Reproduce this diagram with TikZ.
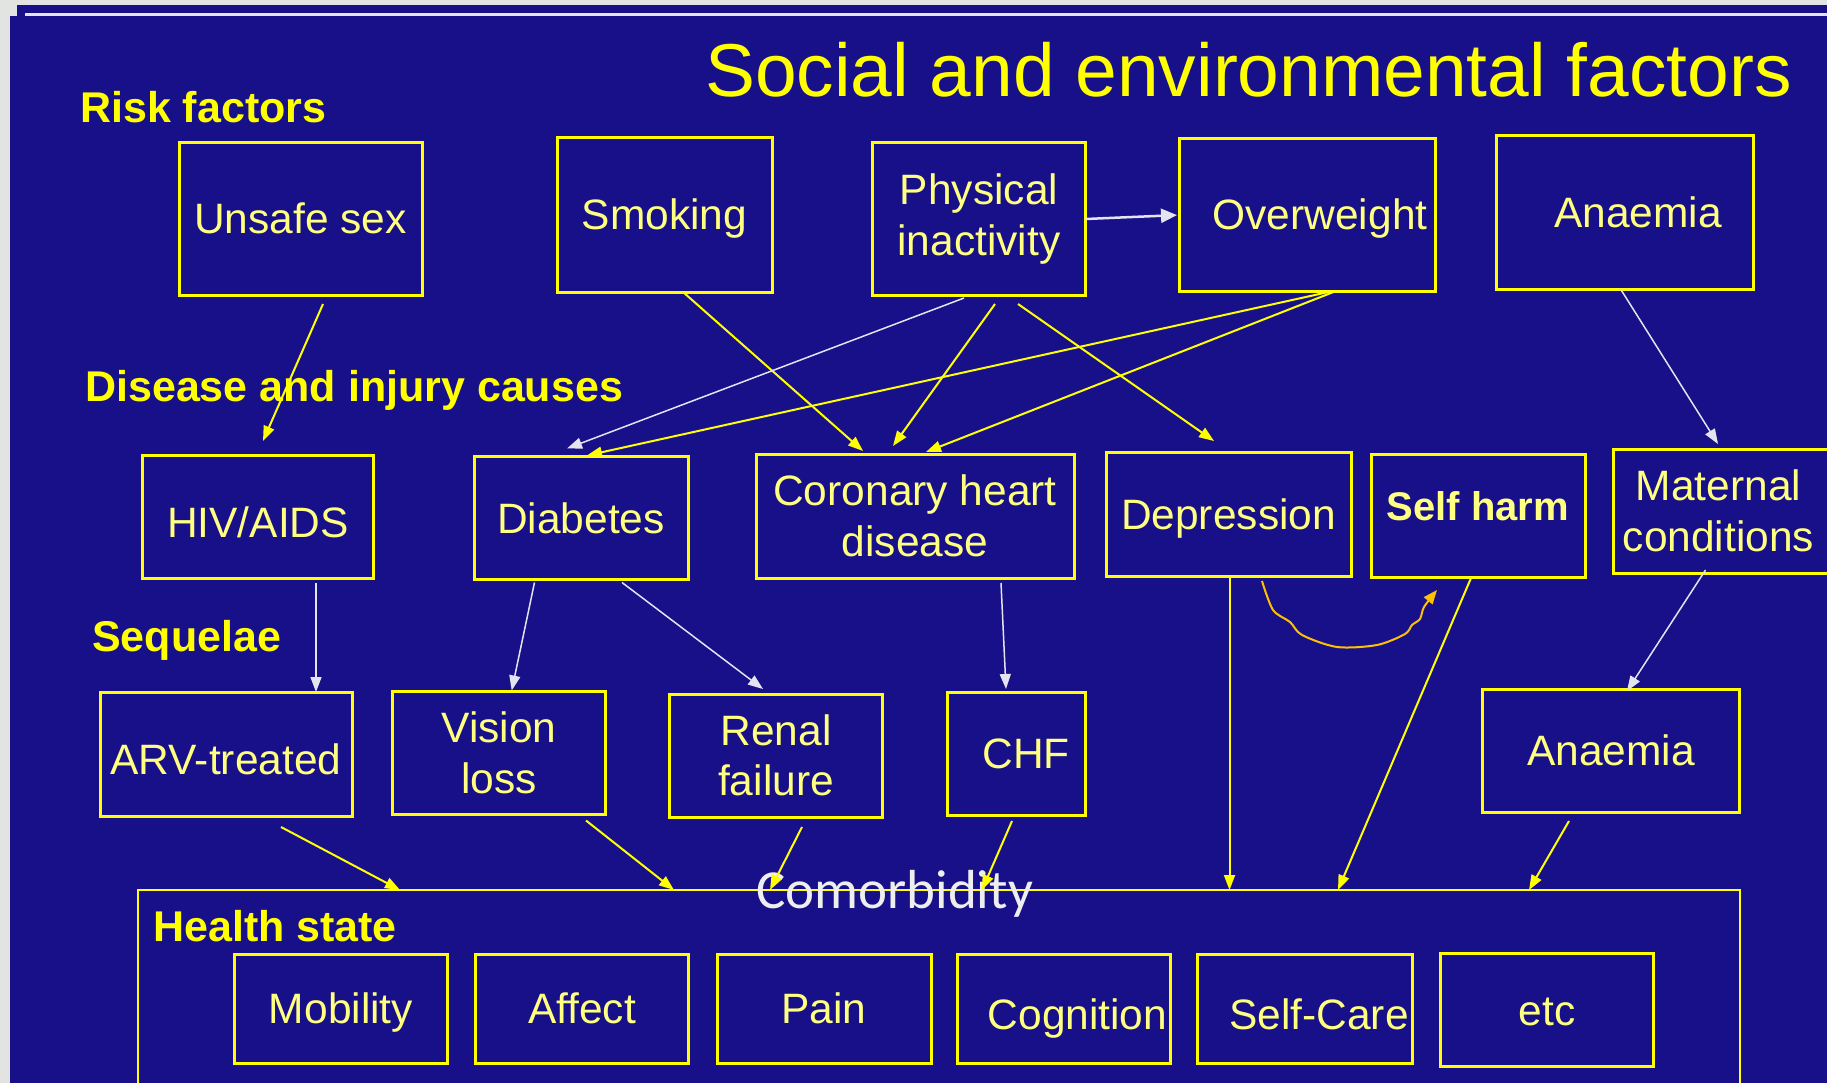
\documentclass[tikz,border=0pt]{standalone}
\usepackage{fontspec}
\setmainfont{Liberation Sans}
\newfontfamily\carlito{Carlito}
\usetikzlibrary{arrows.meta,calc}

\definecolor{pagegrey}{RGB}{226,228,226}
\definecolor{slidenavy}{RGB}{24,16,136}
\definecolor{slideyellow}{RGB}{255,255,0}
\definecolor{paleyellow}{RGB}{255,255,128}
\definecolor{arrowwhite}{RGB}{228,228,240}
\definecolor{curveorange}{RGB}{255,192,0}
\definecolor{comorbwhite}{RGB}{238,238,238}

\newcommand\boxtextfont{\fontsize{42.5}{50.5}\selectfont}
\newcommand\stagefont{\fontsize{43}{50}\selectfont\bfseries}

\tikzset{
  box/.style={draw=slideyellow, line width=3pt, outer sep=0pt, inner sep=0pt,
    text=paleyellow, font=\boxtextfont, align=center},
  oneline/.style={text height=#1, text depth=0pt},
  oneline/.default=30pt,
  stage/.style={text=slideyellow, font=\stagefont, anchor=base west, inner sep=0pt},
  yarrow/.style={slideyellow, line width=2pt, -{Triangle[length=15pt,width=11pt]}},
  warrow/.style={arrowwhite, line width=1.5pt, -{Triangle[length=15pt,width=11pt]}},
  orangearrow/.style={curveorange, line width=2pt, line join=round,
    -{Triangle[length=14pt,width=11pt]}},
}

\begin{document}
\begin{tikzpicture}[x=1pt, y=-1pt]
  \useasboundingbox (0,0) rectangle (1827,1083);
  \clip (0,0) rectangle (1827,1083);

  % slide background
  \fill[pagegrey] (0,0) rectangle (1827,1083);
  \fill[slidenavy] (17,5) rectangle (1827,16);
  \fill[slidenavy] (10,16) rectangle (1827,1083);
  \fill[arrowwhite] (25,13) rectangle (1827,16);

  % title
  \node[anchor=base west, inner sep=0pt, text=slideyellow,
    font=\fontsize{74.9}{80}\selectfont] (title) at (705,96.7)
    {Social and environmental factors};

  % risk factors
  \node[stage] (risk) at (80,123) {Risk factors};
  \node[box, oneline, minimum width=243pt, minimum height=152pt] (unsafe) at (300.5,219) {Unsafe sex};
  \node[box, oneline, minimum width=215pt, minimum height=154pt] (smoking) at (664.5,215) {Smoking};
  \node[box, minimum width=213.5pt, minimum height=152pt] (inactivity) at (979,219) {Physical\\inactivity};
  \node[box, oneline, minimum width=256pt, minimum height=152pt] (overweight) at (1307,215) {\hspace*{26pt}Overweight};
  \node[box, oneline, minimum width=257pt, minimum height=153pt] (anaemiaA) at (1624.5,212.5) {\hspace*{27pt}Anaemia};

  % disease and injury causes
  \node[stage] (causes) at (85,401.7) {Disease and injury causes};
  \node[box, oneline=41pt, minimum width=231pt, minimum height=123pt] (hiv) at (258,516.5) {HIV/AIDS};
  \node[box, oneline, minimum width=214pt, minimum height=123pt] (diabetes) at (581,518) {Diabetes};
  \node[box, minimum width=318pt, minimum height=124pt] (chd) at (915,516) {Coronary heart\\disease};
  \node[box, oneline, minimum width=245pt, minimum height=124pt] (depression) at (1228.5,514) {Depression};
  \node[box, text height=20pt, text depth=10pt, minimum width=214pt, minimum height=123pt,
    font=\fontsize{40}{48}\selectfont\bfseries] (selfharm) at (1478,515.5) {Self harm};
  \node[box, minimum width=223pt, minimum height=124pt] (maternal) at (1724.5,511)
    {Maternal\hspace*{12pt}\\conditions\hspace*{12pt}};

  % sequelae
  \node[stage] (sequelae) at (92,651.7) {Sequelae};
  \node[box, oneline=40pt, minimum width=252pt, minimum height=124pt] (arv) at (226,754) {ARV-treated};
  \node[box, minimum width=213.6pt, minimum height=123pt] (vision) at (499,753) {Vision\\loss};
  \node[box, minimum width=213.4pt, minimum height=123pt] (renal) at (776,755.5) {Renal\\failure};
  \node[box, oneline, minimum width=138pt, minimum height=123pt] (chf) at (1016,753.5) {\hspace*{20pt}CHF};
  \node[box, oneline, minimum width=257.5pt, minimum height=123pt] (anaemiaB) at (1611,750.5) {Anaemia};

  % health state
  \node[draw=slideyellow, line width=2pt, outer sep=0pt, minimum width=1602.5pt,
    minimum height=260pt] (health) at (938.75,1020) {};
  \node[stage] (healthstate) at (153,941) {Health state};
  \node[anchor=base west, inner sep=0pt, text=comorbwhite,
    font=\carlito\fontsize{55}{60}\selectfont] (comorb) at (756,908) {Comorbidity};
  \node[box, oneline, minimum width=213.6pt, minimum height=109pt] (mobility) at (341,1008.5) {Mobility};
  \node[box, oneline, minimum width=213.3pt, minimum height=109pt] (affect) at (582,1008.5) {Affect};
  \node[box, oneline, minimum width=214pt, minimum height=109pt] (pain) at (824,1008.5) {Pain};
  \node[box, oneline=41pt, minimum width=213pt, minimum height=109pt] (cognition) at (1063.5,1008.5) {\hspace*{28pt}Cognition};
  \node[box, oneline=41pt, minimum width=214.6pt, minimum height=109pt] (selfcare) at (1305,1008.5) {\hspace*{28pt}Self-Care};
  \node[box, oneline, minimum width=213pt, minimum height=112.7pt] (etc) at (1547,1010) {etc};

  % risk factors -> causes
  \draw[warrow, line width=2.5pt, shorten >=2pt, -{Triangle[length=16pt,width=14pt]}]
    (inactivity.east) -- (overweight.west);
  \draw[yarrow] ($(unsafe.south)+(22.5,9)$) -- ($(hiv.north)+(5,-14)$);
  \draw[yarrow] ($(smoking.south)+(18.5,0)$) -- ($(chd.north)+(-52,-3)$);
  \draw[warrow] ($(inactivity.south)+(-15,3)$) -- ($(diabetes.north)+(-14,-8)$);
  \draw[yarrow] ($(inactivity.south)+(16,9)$) -- ($(chd.north)+(-22,-8)$);
  \draw[yarrow] ($(inactivity.south)+(39,9)$) -- ($(depression.north)+(-14.5,-11)$);
  \draw[yarrow] ($(overweight.south)+(26,0)$) -- ($(diabetes.north)+(6,-1)$);
  \draw[yarrow] ($(overweight.south)+(29,0)$) -- ($(chd.north)+(11,-2)$);
  \draw[warrow] ($(anaemiaA.south)+(-4,0)$) -- ($(maternal.north)+(-6.5,-5)$);

  % causes -> sequelae
  \draw[warrow] ($(hiv.south)+(58,5)$) -- ($(arv.north)+(90,0)$);
  \draw[warrow] ($(diabetes.south)+(-46.5,3)$) -- ($(vision.north)+(12.7,-1)$);
  \draw[warrow] ($(diabetes.south)+(41,3)$) -- ($(renal.north)+(-13,-5)$);
  \draw[warrow] ($(chd.south)+(86,5)$) -- ($(chf.north)+(-10,-3)$);
  \draw[warrow] ($(maternal.south)+(-19,-3)$) -- ($(anaemiaB.north)+(16,2)$);

  % depression -> self harm
  \coordinate (curvestart) at ($(depression.south)+(33.5,5)$);
  \coordinate (curveend) at ($(selfharm.south)+(-41,13)$);
  \draw[orangearrow] plot[smooth, tension=0.5] coordinates {(curvestart) (1273,610)
    (1290,622) (1302,635) (1337,647) (1377,645) (1405,634) (1412,625) (1420,619)
    (1424,607) (curveend)};

  % everything -> health state
  \draw[yarrow] ($(arv.south)+(55,11)$) -- (400,0 |- health.north);
  \draw[yarrow] ($(vision.south)+(87,6)$) -- (674,0 |- health.north);
  \draw[yarrow] ($(renal.south)+(26,10)$) -- (770,0 |- health.north);
  \draw[yarrow] ($(chf.south)+(-4,6)$) -- (982,0 |- health.north);
  \draw[yarrow] ($(depression.south)+(1,2)$) -- (1229.5,0 |- health.north);
  \draw[yarrow] ($(selfharm.south)+(-7,1)$) -- (1338,0 |- health.north);
  \draw[yarrow] ($(anaemiaB.south)+(-42,9)$) -- (1529,0 |- health.north);
\end{tikzpicture}
\end{document}
